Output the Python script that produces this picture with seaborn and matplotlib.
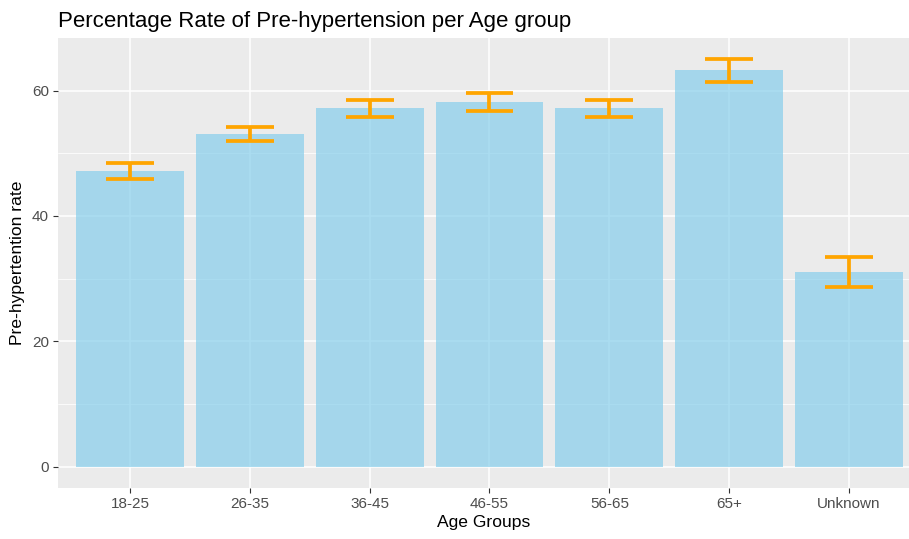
#!/usr/bin/env python3
"""Bar chart of pre-hypertension rate per age group, with error bars."""

import matplotlib as mpl
import matplotlib.pyplot as plt
import pandas as pd
import seaborn as sns
from matplotlib.ticker import MultipleLocator

mpl.use('Agg')

AGE_GROUPS = ["18-25", "26-35", "36-45", "46-55", "56-65", "65+", "Unknown"]
RATES = [47.1, 53.1, 57.2, 58.2, 57.2, 63.3, 31.1]
LOWER = [45.9, 51.9, 55.8, 56.8, 55.8, 61.4, 28.7]
UPPER = [48.5, 54.2, 58.5, 59.6, 58.5, 65.0, 33.4]

sns.set_theme(style="darkgrid")
plt.rcParams["font.family"] = ["Liberation Sans", "DejaVu Sans"]
plt.rcParams["axes.facecolor"] = "#EBEBEB"
plt.rcParams["axes.axisbelow"] = True


def main():
    df = pd.DataFrame({"age": AGE_GROUPS, "rate": RATES,
                       "lo": LOWER, "hi": UPPER})

    fig = plt.figure(figsize=(9.09, 5.39), dpi=100)
    ax = fig.add_axes([58 / 909, 51 / 539, 851 / 909, 450 / 539])

    sns.barplot(data=df, x="age", y="rate", color="skyblue", alpha=0.7,
                width=0.9, saturation=1, errorbar=None, linewidth=0, ax=ax)

    # error bars in data units so the caps scale with the categories
    x = range(len(df))
    ax.vlines(x, df["lo"], df["hi"], color="orange", linewidth=2.7, zorder=3)
    ax.hlines(df["lo"], [i - 0.2 for i in x], [i + 0.2 for i in x],
              color="orange", linewidth=2.7, zorder=3)
    ax.hlines(df["hi"], [i - 0.2 for i in x], [i + 0.2 for i in x],
              color="orange", linewidth=2.7, zorder=3)

    ax.set_xlim(-0.6, 6.5)
    ax.set_ylim(-3.4, 68.4)
    ax.yaxis.set_major_locator(MultipleLocator(20))
    ax.yaxis.set_minor_locator(MultipleLocator(10))
    ax.grid(which="major", color="white", linewidth=1.1)
    ax.grid(which="minor", axis="y", color="white", linewidth=0.55)
    ax.grid(which="minor", axis="x", visible=False)
    for side in ax.spines.values():
        side.set_visible(False)

    ax.tick_params(axis="both", which="major", length=3.6, width=0.8,
                   color="#333333", labelcolor="#4D4D4D", labelsize=11,
                   pad=3, bottom=True, left=True)
    ax.tick_params(which="minor", length=0)

    ax.set_xlabel("Age Groups", fontsize=12.6, color="black", labelpad=3)
    ax.set_ylabel("Pre-hypertention rate", fontsize=12.6, color="black",
                  labelpad=5)
    ax.set_title("Percentage Rate of Pre-hypertension per Age group",
                 loc="left", fontsize=16, color="black", pad=8)

    fig.savefig("out.png", dpi=100)


if __name__ == '__main__':
    main()
